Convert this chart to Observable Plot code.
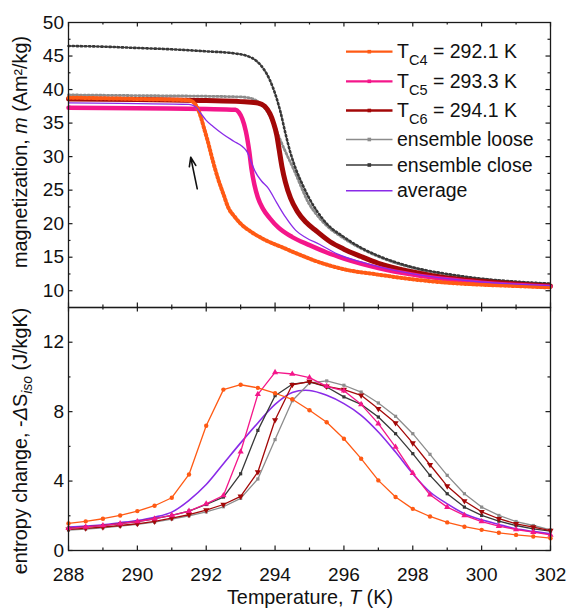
<!DOCTYPE html>
<html><head><meta charset="utf-8">
<script src="https://cdn.jsdelivr.net/npm/d3@7"></script>
<script src="https://cdn.jsdelivr.net/npm/@observablehq/plot@0.6"></script>
<style>
html,body{margin:0;padding:0;background:#fff;}
#chart{position:relative;width:567px;height:608px;overflow:hidden;}
#chart svg{display:block;}
</style></head><body><div id="chart"></div>
<script>
const FONT = "'Liberation Sans', Arial, Helvetica, sans-serif";

// ---------- series names / colours ----------
const seriesKeys = ["c4", "c5", "c6", "loose", "close", "avg"];
const seriesColors = ["#ff5a14", "#f4168a", "#a30808", "#8c8c8c", "#383838", "#8a2be8"];

// ---------- top panel: magnetization m (Am²/kg) vs T (K) ----------
const mC4T = [288, 289, 290, 291, 291.5, 291.65, 291.75, 291.85, 291.95, 292.05, 292.15, 292.25, 292.35, 292.5, 292.65, 292.8, 293.0, 293.3, 293.7, 294.2, 294.7, 295.2, 296, 297, 298, 299, 300, 301, 302];
const mC4  = [38.8, 38.7, 38.6, 38.5, 38.4, 38.0, 37.2, 35.8, 34.0, 32.2, 30.2, 28.3, 26.6, 24.4, 22.3, 21.2, 20.0, 18.8, 17.6, 16.5, 15.4, 14.4, 13.2, 12.4, 11.7, 11.2, 10.9, 10.7, 10.5];

const mC5T = [288, 290, 292, 292.85, 292.95, 293.05, 293.15, 293.25, 293.32, 293.4, 293.5, 293.65, 293.85, 294.1, 294.5, 295, 295.5, 296, 297, 298, 299, 300, 301, 302];
const mC5  = [37.3, 37.2, 37.1, 37.0, 36.6, 35.6, 33.8, 30.8, 28.0, 25.8, 23.9, 22.2, 20.8, 19.4, 18.0, 16.8, 15.7, 14.8, 13.4, 12.4, 11.7, 11.2, 10.85, 10.6];

const mC6T = [288, 290, 292, 293, 293.5, 293.7, 293.85, 293.95, 294.05, 294.12, 294.2, 294.3, 294.45, 294.65, 294.9, 295.2, 295.6, 296, 296.5, 297, 298, 299, 300, 301, 302];
const mC6  = [38.6, 38.5, 38.35, 38.2, 38.0, 37.5, 36.4, 35.1, 33.2, 31.0, 28.5, 26.2, 23.8, 21.8, 20.2, 18.9, 17.3, 16.2, 15.1, 14.1, 12.8, 11.9, 11.4, 11.0, 10.7];

const mLooseT = [288, 290, 292, 293, 293.3, 293.55, 293.75, 293.95, 294.15, 294.35, 294.55, 294.75, 294.95, 295.2, 295.5, 296, 296.5, 297, 298, 299, 300, 301, 302];
const mLoose  = [39.2, 39.1, 39.0, 38.9, 38.7, 38.0, 36.9, 35.0, 32.5, 30.2, 28.0, 25.6, 23.3, 21.4, 19.7, 17.8, 16.3, 15.1, 13.4, 12.4, 11.7, 11.3, 11.0];

const mCloseT = [288, 289, 290, 291, 292, 292.8, 293.2, 293.45, 293.65, 293.85, 294.0, 294.15, 294.3, 294.45, 294.6, 294.8, 295.0, 295.2, 295.5, 296, 296.5, 297, 298, 299, 300, 301, 302];
const mClose  = [46.5, 46.4, 46.2, 46.0, 45.7, 45.4, 45.0, 44.3, 43.2, 41.4, 39.4, 36.8, 33.5, 30.5, 28.2, 25.8, 23.7, 22.0, 20.0, 18.0, 16.4, 15.2, 13.5, 12.5, 11.8, 11.35, 11.05];

const mAvgT = [288, 290, 291.5, 291.7, 291.85, 292.0, 292.2, 292.5, 292.8, 293.05, 293.2, 293.3, 293.42, 293.6, 293.8, 294.05, 294.3, 294.6, 294.9, 295.3, 295.8, 296.5, 297, 298, 299, 300, 301, 302];
const mAvg  = [38.0, 37.9, 37.8, 37.4, 36.4, 35.4, 34.5, 33.3, 32.3, 31.5, 30.6, 29.3, 27.8, 26.4, 25.3, 23.1, 21.0, 19.0, 17.9, 16.9, 15.5, 14.3, 13.6, 12.5, 11.8, 11.3, 11.0, 10.75];

// arrow annotation (T, m)
const arrowFrom = [291.74, 25.2];
const arrowTo   = [291.55, 29.9];

// ---------- bottom panel: -ΔS_iso (J/kgK) vs T (K) ----------
const sT = [288, 288.5, 289, 289.5, 290, 290.5, 291, 291.5, 292, 292.5, 293, 293.5, 294, 294.5, 295, 295.5, 296, 296.5, 297, 297.5, 298, 298.5, 299, 299.5, 300, 300.5, 301, 301.5, 302];
const sC4    = [1.56, 1.68, 1.83, 2.02, 2.27, 2.58, 3.04, 4.38, 7.19, 9.27, 9.55, 9.37, 9.06, 8.71, 8.08, 7.39, 6.44, 5.29, 4.04, 3.08, 2.40, 1.96, 1.62, 1.37, 1.19, 1.02, 0.90, 0.81, 0.71];
const sC5    = [1.28, 1.36, 1.44, 1.55, 1.67, 1.83, 2.02, 2.27, 2.69, 3.17, 5.69, 9.00, 10.26, 10.17, 9.96, 9.46, 9.20, 8.42, 7.31, 5.96, 4.46, 3.21, 2.50, 2.02, 1.67, 1.40, 1.21, 1.06, 0.90];
const sC6    = [1.22, 1.28, 1.35, 1.44, 1.54, 1.68, 1.87, 2.06, 2.33, 2.65, 3.12, 4.52, 7.52, 9.55, 9.73, 9.46, 9.27, 8.94, 8.17, 7.35, 6.19, 4.94, 3.71, 2.85, 2.23, 1.83, 1.54, 1.35, 1.15];
const sLoose = [1.18, 1.24, 1.31, 1.40, 1.50, 1.63, 1.81, 2.00, 2.22, 2.52, 3.00, 4.12, 6.39, 8.63, 9.65, 9.77, 9.52, 9.13, 8.50, 7.73, 6.73, 5.54, 4.33, 3.27, 2.50, 2.02, 1.67, 1.44, 1.19];
const sClose = [1.29, 1.36, 1.44, 1.55, 1.67, 1.83, 2.02, 2.27, 2.65, 3.08, 4.42, 6.92, 8.92, 9.58, 9.71, 9.42, 8.85, 8.42, 7.69, 6.73, 5.58, 4.33, 3.27, 2.50, 2.02, 1.69, 1.44, 1.25, 1.12];
const sAvg   = [1.35, 1.41, 1.48, 1.60, 1.73, 1.92, 2.21, 2.89, 3.80, 5.00, 6.20, 7.35, 8.42, 9.10, 9.22, 8.94, 8.46, 7.79, 6.83, 5.67, 4.42, 3.37, 2.69, 2.12, 1.77, 1.50, 1.25, 1.10, 0.96];

// ---------- ticks ----------
const xMajor = [288, 290, 292, 294, 296, 298, 300, 302];
const xMinor = [289, 291, 293, 295, 297, 299, 301];
const yTopMajor = [10, 15, 20, 25, 30, 35, 40, 45, 50];
const yTopMinor = [12.5, 17.5, 22.5, 27.5, 32.5, 37.5, 42.5, 47.5];
const yBotMajor = [0, 4, 8, 12];
const yBotMinor = [2, 6, 10];

// ---------- legend labels ----------
const legendLabels = [
  ["T", "C4", " = 292.1 K"],
  ["T", "C5", " = 293.3 K"],
  ["T", "C6", " = 294.1 K"],
  ["ensemble loose"],
  ["ensemble close"],
  ["average"]
];

// build tables
const zip = (key, xs, ys) => xs.map((x, i) => ({key, T: x, v: ys[i]}));
const topRows = {
  c4: zip("c4", mC4T, mC4), c5: zip("c5", mC5T, mC5), c6: zip("c6", mC6T, mC6),
  loose: zip("loose", mLooseT, mLoose), close: zip("close", mCloseT, mClose), avg: zip("avg", mAvgT, mAvg)
};
const botRows = {
  c4: zip("c4", sT, sC4), c5: zip("c5", sT, sC5), c6: zip("c6", sT, sC6),
  loose: zip("loose", sT, sLoose), close: zip("close", sT, sClose), avg: zip("avg", sT, sAvg)
};
const col = Object.fromEntries(seriesKeys.map((k, i) => [k, seriesColors[i]]));

const W = 567, ML = 68, MR = 17;
const FW = W - ML - MR;
const MAJ = 4.5, MIN = 2.5, TICKC = "#1a1a1a";

function tickMarks(FH, yMaj, yMin) {
  return [
    Plot.ruleX(xMajor, {x: d => d, insetBottom: FH - MAJ, stroke: TICKC, strokeWidth: 1.2}),
    Plot.ruleX(xMinor, {x: d => d, insetBottom: FH - MIN, stroke: TICKC, strokeWidth: 1.2}),
    Plot.ruleX(xMajor, {x: d => d, insetTop: FH - MAJ, stroke: TICKC, strokeWidth: 1.2}),
    Plot.ruleX(xMinor, {x: d => d, insetTop: FH - MIN, stroke: TICKC, strokeWidth: 1.2}),
    Plot.ruleY(yMaj, {y: d => d, insetRight: FW - MAJ, stroke: TICKC, strokeWidth: 1.2}),
    Plot.ruleY(yMin, {y: d => d, insetRight: FW - MIN, stroke: TICKC, strokeWidth: 1.2}),
    Plot.ruleY(yMaj, {y: d => d, insetLeft: FW - MAJ, stroke: TICKC, strokeWidth: 1.2}),
    Plot.ruleY(yMin, {y: d => d, insetLeft: FW - MIN, stroke: TICKC, strokeWidth: 1.2})
  ];
}

const style = {fontFamily: FONT, fontSize: "19px", color: "#111", background: "transparent", overflow: "visible"};

// ---------- top plot ----------
const topH = 307, topMT = 22;
const topPlot = Plot.plot({
  width: W, height: topH, marginTop: topMT, marginBottom: 0, marginLeft: ML, marginRight: MR,
  style,
  x: {domain: [288, 302], axis: null},
  y: {domain: [7.5, 50]},
  marks: [
    ...tickMarks(topH - topMT, yTopMajor.filter(d => d < 50), yTopMinor),
    Plot.axisY(yTopMajor, {tickSize: 0, tickPadding: 4.5, label: null, fontSize: 19}),
    // ensemble loose
    Plot.line(topRows.loose, {x: "T", y: "v", stroke: col.loose, strokeWidth: 1.1, curve: "monotone-x"}),
    Plot.line(topRows.loose, {x: "T", y: "v", stroke: col.loose, strokeWidth: 2.8, strokeDasharray: "1.3,2.6", curve: "monotone-x"}),
    // ensemble close
    Plot.line(topRows.close, {x: "T", y: "v", stroke: col.close, strokeWidth: 1.0, curve: "monotone-x"}),
    Plot.line(topRows.close, {x: "T", y: "v", stroke: col.close, strokeWidth: 2.6, strokeDasharray: "1.3,2.8", curve: "monotone-x"}),
    // T_C6
    Plot.line(topRows.c6, {x: "T", y: "v", stroke: col.c6, strokeWidth: 5, curve: "monotone-x"}),
    // T_C5
    Plot.line(topRows.c5, {x: "T", y: "v", stroke: col.c5, strokeWidth: 4.5, curve: "monotone-x"}),
    // T_C4
    Plot.line(topRows.c4, {x: "T", y: "v", stroke: col.c4, strokeWidth: 2.4, curve: "monotone-x"}),
    Plot.line(topRows.c4, {x: "T", y: "v", stroke: col.c4, strokeWidth: 4.0, strokeDasharray: "1.5,2.5", curve: "monotone-x"}),
    // average
    Plot.line(topRows.avg, {x: "T", y: "v", stroke: col.avg, strokeWidth: 1.3, curve: "monotone-x"}),
    // arrow
    Plot.arrow([{x1: arrowFrom[0], y1: arrowFrom[1], x2: arrowTo[0], y2: arrowTo[1]}],
      {x1: "x1", y1: "y1", x2: "x2", y2: "y2", stroke: "#111", strokeWidth: 1.6, headLength: 9, headAngle: 40}),
    Plot.frame({stroke: "#1a1a1a", strokeWidth: 1.3})
  ]
});

// ---------- bottom plot ----------
const botH = 301, botMB = 58;
const botPlot = Plot.plot({
  width: W, height: botH, marginTop: 0, marginBottom: botMB, marginLeft: ML, marginRight: MR,
  style,
  x: {domain: [288, 302]},
  y: {domain: [0, 14]},
  marks: [
    ...tickMarks(botH - botMB, yBotMajor, yBotMinor),
    Plot.axisX(xMajor, {tickSize: 0, tickPadding: 16.5, label: null, fontSize: 19}),
    Plot.axisY(yBotMajor, {tickSize: 0, tickPadding: 4.5, label: null, fontSize: 19}),
    Plot.line(botRows.avg, {x: "T", y: "v", stroke: col.avg, strokeWidth: 1.6, curve: "catmull-rom"}),
    Plot.line(botRows.loose, {x: "T", y: "v", stroke: col.loose, strokeWidth: 1.3}),
    Plot.dot(botRows.loose, {x: "T", y: "v", fill: col.loose, symbol: "square", r: 1.8}),
    Plot.line(botRows.close, {x: "T", y: "v", stroke: col.close, strokeWidth: 1.3}),
    Plot.dot(botRows.close, {x: "T", y: "v", fill: col.close, symbol: "square", r: 1.8}),
    Plot.line(botRows.c6, {x: "T", y: "v", stroke: col.c6, strokeWidth: 1.3}),
    Plot.dot(botRows.c6, {x: "T", y: "v", fill: col.c6, symbol: "triangle", rotate: 180, r: 2.3}),
    Plot.line(botRows.c5, {x: "T", y: "v", stroke: col.c5, strokeWidth: 1.3}),
    Plot.dot(botRows.c5, {x: "T", y: "v", fill: col.c5, symbol: "triangle", r: 2.3}),
    Plot.line(botRows.c4, {x: "T", y: "v", stroke: col.c4, strokeWidth: 1.3}),
    Plot.dot(botRows.c4, {x: "T", y: "v", fill: col.c4, symbol: "circle", r: 2.2}),
    Plot.frame({stroke: "#1a1a1a", strokeWidth: 1.3})
  ]
});

const chart = document.getElementById("chart");
chart.appendChild(topPlot);
chart.appendChild(botPlot);

// ---------- axis titles ----------
const TS = 19.8;
const tsel = d3.select(topPlot), bsel = d3.select(botPlot);

const t1 = tsel.append("text")
  .attr("transform", "translate(27,152) rotate(-90)")
  .attr("text-anchor", "middle").attr("font-family", FONT).attr("font-size", TS).attr("fill", "#111");
t1.append("tspan").text("magnetization, ");
t1.append("tspan").attr("font-style", "italic").text("m");
t1.append("tspan").text(" (Am²/kg)");

const t2 = bsel.append("text")
  .attr("transform", "translate(27,134) rotate(-90)")
  .attr("text-anchor", "middle").attr("font-family", FONT).attr("font-size", TS).attr("fill", "#111");
t2.append("tspan").text("entropy change, -");
t2.append("tspan").attr("font-style", "italic").text("Δ");
t2.append("tspan").text("S");
t2.append("tspan").attr("font-style", "italic").attr("font-size", 14).attr("dy", 5).text("iso");
t2.append("tspan").attr("dy", -5).text(" (J/kgK)");

const t3 = bsel.append("text")
  .attr("x", 310).attr("y", 297)
  .attr("text-anchor", "middle").attr("font-family", FONT).attr("font-size", TS).attr("fill", "#111");
t3.append("tspan").text("Temperature, ");
t3.append("tspan").attr("font-style", "italic").text("T");
t3.append("tspan").text(" (K)");

// ---------- legend ----------
const legY = [51.7, 81.3, 110.5, 139.5, 165, 190.7];
const legW = [2.2, 2.2, 2.6, 1.3, 1.3, 1.6];
const lg = tsel.append("g").attr("font-family", FONT).attr("font-size", 19.5)
  .attr("fill", "#111").attr("text-anchor", "start");
seriesKeys.forEach((k, i) => {
  const y = legY[i];
  lg.append("line").attr("x1", 346).attr("x2", 392.5).attr("y1", y).attr("y2", y)
    .attr("stroke", col[k]).attr("stroke-width", legW[i]);
  if (k !== "avg") {
    lg.append("rect").attr("x", 367.5).attr("y", y - 1.8).attr("width", 3.6).attr("height", 3.6).attr("fill", col[k]);
  }
  const tx = lg.append("text").attr("x", 397).attr("y", y + 6.7).attr("text-anchor", "start");
  const parts = legendLabels[i];
  if (parts.length === 3) {
    tx.append("tspan").text(parts[0]);
    tx.append("tspan").attr("font-size", 14.5).attr("dy", 6.5).text(parts[1]);
    tx.append("tspan").attr("dy", -6.5).text(parts[2]);
  } else {
    tx.text(parts[0]);
  }
});
</script>
</body></html>
